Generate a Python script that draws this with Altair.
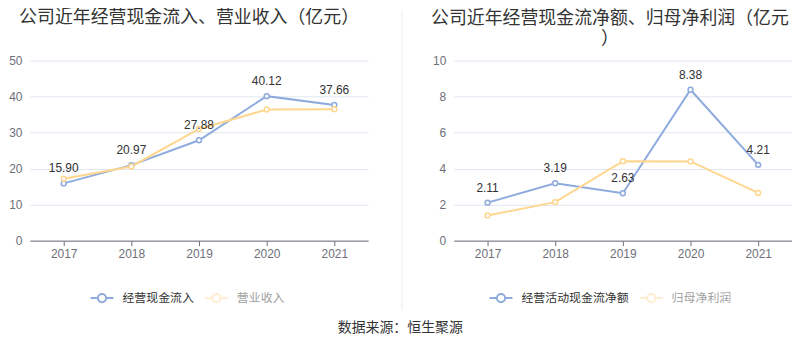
import altair as alt
import pandas as pd

years = ["2017", "2018", "2019", "2020", "2021"]
cash_inflow = [15.90, 20.97, 27.88, 40.12, 37.66]
revenue = [17.2, 20.6, 31.0, 36.4, 36.5]
net_cash_flow = [2.11, 3.19, 2.63, 8.38, 4.21]
net_profit = [1.40, 2.14, 4.41, 4.40, 2.65]

left_series = ["经营现金流入", "营业收入"]
right_series = ["经营活动现金流净额", "归母净利润"]
left_ticks = [0, 10, 20, 30, 40, 50]
right_ticks = [0, 2, 4, 6, 8, 10]

BLUE = "#8eabdd"
YELLOW = "#ffd68d"
AXIS_GRAY = "#6e7079"
GRID = "#e0e6f1"
FONT = "Liberation Sans, Noto Sans CJK SC, sans-serif"
LEGEND_PATH = ("M-1,0L-0.36,0M0.36,0L1,0M0.36,0A0.36,0.36,0,1,1,-0.36,0"
               "A0.36,0.36,0,1,1,0.36,0")


def long_df(s1, s2, names):
    return pd.DataFrame({
        "year": years * 2,
        "value": s1 + s2,
        "series": [names[0]] * 5 + [names[1]] * 5,
        "label": [f"{v:.2f}" for v in s1] + [""] * 5,
    })


def panel(s1, s2, names, ticks, title, legend_x, title_dx, title_offset, sep=False):
    df = long_df(s1, s2, names)
    x = alt.X("year:N", sort=years,
              scale=alt.Scale(type="point", padding=0.5),
              axis=alt.Axis(title=None, labelAngle=0, grid=False,
                            domainColor=AXIS_GRAY, tickColor=AXIS_GRAY,
                            tickSize=5, labelColor=AXIS_GRAY, labelFontSize=12,
                            labelPadding=3))
    y = alt.Y("value:Q", scale=alt.Scale(domain=[ticks[0], ticks[-1]]),
              axis=alt.Axis(title=None, values=ticks, domain=False, ticks=False,
                            labelPadding=8, gridColor=GRID, labelColor=AXIS_GRAY,
                            labelFontSize=12))
    faded = names[1]
    color = alt.Color(
        "series:N", sort=names,
        scale=alt.Scale(domain=names, range=[BLUE, YELLOW]),
        legend=alt.Legend(
            title=None, orient="none", legendX=legend_x, legendY=226,
            direction="horizontal", symbolType=LEGEND_PATH, symbolSize=529,
            symbolStrokeWidth=2, symbolFillColor="white",
            symbolOpacity={"expr": f"datum.value === '{faded}' ? 0.4 : 1"},
            labelColor={"expr": f"datum.value === '{faded}' ? '#a0a0a0' : '#333333'"},
            labelFontSize=12, labelOffset=8, columnPadding=6, padding=0),
    )
    base = alt.Chart(df)
    line = base.mark_line(strokeWidth=2).encode(x=x, y=y, color=color)
    pts = base.mark_point(filled=False, fill="white", size=24, strokeWidth=1.5,
                          opacity=1).encode(x=x, y=y, color=color)
    txt = base.transform_filter(alt.datum.series == names[0]).mark_text(
        fontSize=12, color="#333333", dy=-15, baseline="middle"
    ).encode(x=x, y=y, text="label:N")
    layers = [line, pts, txt]
    if sep:
        rule = alt.Chart(pd.DataFrame({"k": [0]})).mark_rule(
            color="#eeeeee", strokeWidth=1
        ).encode(x=alt.value(374), y=alt.value(-51), y2=alt.value(251))
        layers = layers + [rule]
    return alt.layer(*layers).properties(
        width=340, height=181,
        title=alt.TitleParams(text=title, fontSize=18, fontWeight="normal",
                              color="#333333", anchor="middle", dx=title_dx,
                              offset=title_offset, frame="group"),
    )


left = panel(cash_inflow, revenue, left_series, left_ticks,
             "公司近年经营现金流入、营业收入（亿元）", 60, -10, -18, sep=True)
right = panel(net_cash_flow, net_profit, right_series, right_ticks,
              ["公司近年经营现金流净额、归母净利润（亿元", "）"], 35, -13, 7)

chart = alt.hconcat(left, right, spacing=28).resolve_scale(
    color="independent"
).properties(
    title=alt.TitleParams("数据来源：恒生聚源", orient="bottom", anchor="middle",
                          fontSize=14, fontWeight="normal", color="#333333",
                          offset=10),
    padding=0,
).configure(font=FONT).configure_view(stroke=None)

chart.save("out.html", embed_options={"renderer": "svg", "actions": False})
